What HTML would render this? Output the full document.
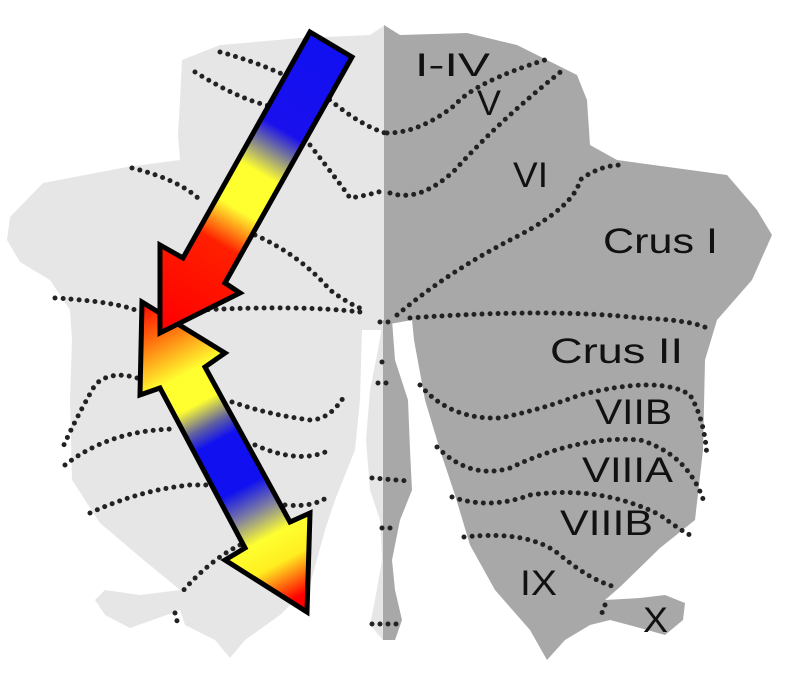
<!DOCTYPE html>
<html><head><meta charset="utf-8"><style>
html,body{margin:0;padding:0;background:#fff;width:787px;height:680px;overflow:hidden}
svg{display:block}
text{font-family:"Liberation Sans",Arial,sans-serif;fill:#111}
</style></head><body>
<svg width="787" height="680" viewBox="0 0 787 680" xmlns="http://www.w3.org/2000/svg">
<defs>
<linearGradient id="g1" gradientUnits="userSpaceOnUse" x1="331" y1="45" x2="165" y2="325">
<stop offset="0" stop-color="#1010f0"/><stop offset="0.3" stop-color="#1a10ee"/>
<stop offset="0.36" stop-color="#7070a0"/><stop offset="0.45" stop-color="#ffff30"/>
<stop offset="0.58" stop-color="#ffff30"/><stop offset="0.7" stop-color="#ff2000"/>
<stop offset="1" stop-color="#ff0000"/></linearGradient>
<linearGradient id="g2" gradientUnits="userSpaceOnUse" x1="142" y1="302" x2="307" y2="612">
<stop offset="0" stop-color="#ff0000"/><stop offset="0.12" stop-color="#ff7a10"/>
<stop offset="0.24" stop-color="#ffff30"/><stop offset="0.33" stop-color="#ffff30"/>
<stop offset="0.4" stop-color="#6060a0"/><stop offset="0.45" stop-color="#1010f0"/>
<stop offset="0.6" stop-color="#1010f0"/><stop offset="0.68" stop-color="#8080a0"/>
<stop offset="0.76" stop-color="#ffff30"/><stop offset="0.84" stop-color="#ffee20"/>
<stop offset="0.95" stop-color="#ff0000"/></linearGradient>
</defs>
<!-- left hemisphere -->
<path fill="#e6e6e6" d="M385,25 L385,330 L362,330 L360,400 L355,450 L335,500 L325,530 L310,585 L280,615 L245,640 L230,658 L215,640 L185,625 L180,610 L175,612 L130,628 L105,615 L95,600 L105,590 L140,595 L180,590 L140,557 L100,523 L72,480 L70,400 L72,340 L70,310 L50,280 L20,262 L7,240 L10,217 L43,183 L127,167 L180,160 L178,135 L180,100 L182,60 L220,45 L300,38 L370,35 Z"/>
<!-- right hemisphere -->
<path fill="#a8a8a8" d="M384,25 L400,35 L467,33 L517,45 L577,75 L587,100 L590,145 L617,160 L727,175 L757,210 L772,235 L752,280 L717,320 L705,360 L703,450 L695,520 L660,548 L620,587 L605,600 L640,598 L665,595 L685,603 L683,620 L665,635 L640,628 L610,620 L590,625 L565,640 L547,660 L530,630 L495,590 L470,545 L455,495 L440,450 L425,400 L414,340 L412,320 L384,325 Z"/>
<!-- vermis -->
<path fill="#e6e6e6" d="M383,320 L378,350 L370,390 L366,440 L370,490 L380,520 L382,560 L375,600 L370,625 L383,640 Z"/>
<path fill="#a8a8a8" d="M383,320 L392,320 L395,360 L408,400 L410,450 L412,490 L400,520 L392,560 L395,590 L402,620 L395,640 L383,640 Z"/>
<g fill="none" stroke="#222" stroke-width="5" stroke-linecap="round" stroke-dasharray="0 8">
<path d="M387,133 Q420,133 455,105 Q475,82 545,60"/>
<path d="M390,193 Q420,203 455,170 Q500,120 563,70"/>
<path d="M397,315 Q450,270 520,235 Q575,205 580,180 Q600,165 622,165"/>
<path d="M410,318 Q550,308 640,318 Q690,320 707,328"/>
<path d="M420,385 Q450,420 500,418 Q540,410 580,395 Q660,375 690,395 Q705,420 707,458"/>
<path d="M437,447 Q470,480 510,468 Q580,435 640,440 Q690,455 705,505"/>
<path d="M452,497 Q490,510 530,495 Q600,485 660,515 Q680,530 690,535"/>
<path d="M464,537 Q530,530 560,555 Q590,580 615,587"/>
<path d="M605,605 L600,618"/>
<path d="M380,322 L395,322"/><path d="M382,362 L390,362"/><path d="M378,383 L392,383"/>
<path d="M372,478 L408,481"/><path d="M382,528 L392,528"/><path d="M372,624 L402,624"/>
<path d="M220,52 Q280,68 330,100 Q360,125 385,133"/>
<path d="M195,72 Q240,100 270,106"/><path d="M310,145 Q345,190 350,198 Q370,195 385,190"/>
<path d="M132,168 Q180,180 200,200"/><path d="M255,235 Q300,255 330,290 Q350,305 365,310"/>
<path d="M55,298 Q120,302 140,312"/><path d="M200,310 Q300,305 360,312"/>
<path d="M137,378 Q110,370 95,385 Q75,420 63,447"/>
<path d="M65,465 Q110,430 175,429"/>
<path d="M232,402 Q270,415 310,420 Q330,420 345,395"/>
<path d="M255,445 Q300,465 330,450"/>
<path d="M90,513 Q140,490 190,485 Q205,485 210,485"/>
<path d="M285,505 Q315,508 330,495"/>
<path d="M240,545 Q210,560 182,592"/><path d="M175,613 L177,621"/>
</g>
<polygon fill="url(#g2)" stroke="#000" stroke-width="5" stroke-linejoin="miter" points="142,302 225,353 205,367 290,522 310,513 307,612 225,560 245,548 160,388 140,395"/>
<polygon fill="url(#g1)" stroke="#000" stroke-width="5" stroke-linejoin="miter" points="310,32 352,57 225,283 240,293 160,333 160,245 183,258"/>
<g font-size="35">
<text x="415" y="76" font-size="32" textLength="75" lengthAdjust="spacingAndGlyphs">I-IV</text>
<text x="477" y="115" textLength="24" lengthAdjust="spacingAndGlyphs">V</text>
<text x="513" y="187" textLength="35" lengthAdjust="spacingAndGlyphs">VI</text>
<text x="603" y="253" textLength="115" lengthAdjust="spacingAndGlyphs">Crus I</text>
<text x="550" y="363" textLength="133" lengthAdjust="spacingAndGlyphs">Crus II</text>
<text x="595" y="424" textLength="77" lengthAdjust="spacingAndGlyphs">VIIB</text>
<text x="582" y="482" textLength="91" lengthAdjust="spacingAndGlyphs">VIIIA</text>
<text x="560" y="535" textLength="93" lengthAdjust="spacingAndGlyphs">VIIIB</text>
<text x="520" y="595" textLength="37" lengthAdjust="spacingAndGlyphs">IX</text>
<text x="643" y="632" textLength="25" lengthAdjust="spacingAndGlyphs">X</text>
</g>
</svg>
</body></html>
